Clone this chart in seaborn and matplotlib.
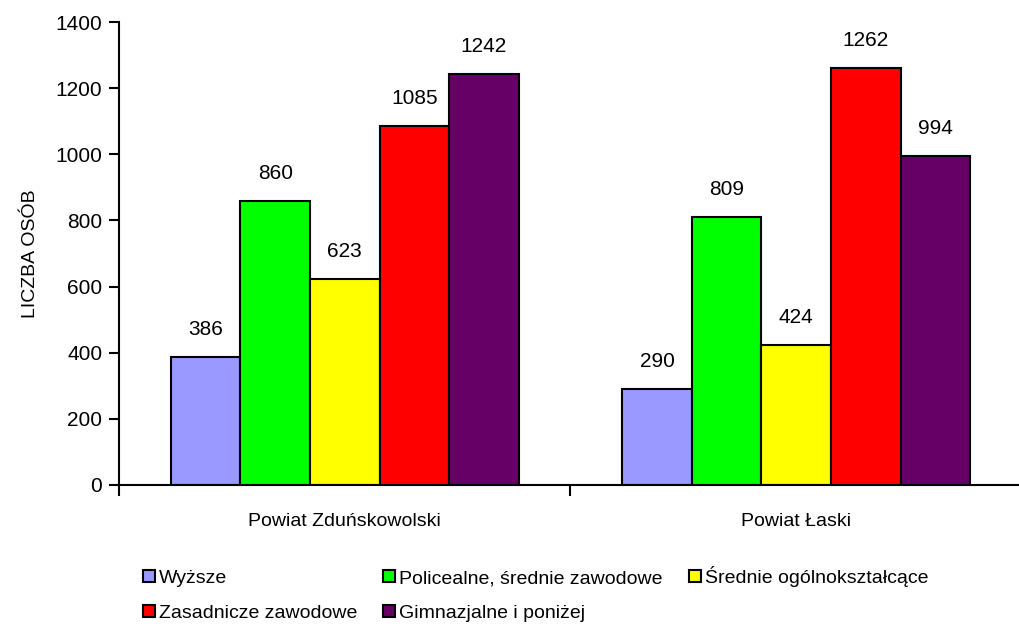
import matplotlib
matplotlib.use("Agg")
import matplotlib.pyplot as plt
import seaborn as sns
import pandas as pd
from matplotlib.patches import Patch

categories = ["Powiat Zduńskowolski", "Powiat Łaski"]
series = ["Wyższe", "Policealne, średnie zawodowe", "Średnie ogólnokształcące",
          "Zasadnicze zawodowe", "Gimnazjalne i poniżej"]
values_zdunska = [386, 860, 623, 1085, 1242]
values_laski = [290, 809, 424, 1262, 994]
colors = ["#9999FF", "#00FF00", "#FFFF00", "#FF0000", "#660066"]
yticks = [0, 200, 400, 600, 800, 1000, 1200, 1400]
ylabel = "LICZBA OSÓB"

rows = []
for cat, vals in zip(categories, [values_zdunska, values_laski]):
    for s, v in zip(series, vals):
        rows.append({"powiat": cat, "poziom": s, "liczba": v})
df = pd.DataFrame(rows)

sns.set_theme(style="white")
plt.rcParams["font.family"] = ["Liberation Sans", "DejaVu Sans"]
plt.rcParams["text.color"] = "black"
plt.rcParams["axes.labelcolor"] = "black"
plt.rcParams["xtick.color"] = "black"
plt.rcParams["ytick.color"] = "black"
FS = 14
FSN = 15

fig = plt.figure(figsize=(10.2, 6.36), dpi=100)
ax = fig.add_axes([119 / 1020, 1 - 485 / 636, (1022 - 119) / 1020, (485 - 22) / 636])

sns.barplot(data=df, x="powiat", y="liczba", hue="poziom", order=categories,
            hue_order=series, palette=colors, width=0.77, edgecolor="black",
            linewidth=1.5, saturation=1, legend=False, ax=ax)

for cont in ax.containers:
    ax.bar_label(cont, labels=[f"{int(v)}" for v in cont.datavalues],
                 padding=13, fontsize=FSN, color="black")

ax.set_ylim(0, 1400)
ax.set_xlim(-0.5, 1.5)
ax.set_yticks(yticks)
ax.set_yticklabels([str(t) for t in yticks], fontsize=FSN)
ax.set_xticks([0, 1])
ax.set_xticklabels(categories, fontsize=FS)
ax.set_xticks([-0.5, 0.5, 1.5], minor=True)
ax.tick_params(axis="x", which="major", length=0, pad=20, colors="black")
ax.tick_params(axis="x", which="minor", length=8, width=1.5, direction="out", bottom=True, color="black")
ax.tick_params(axis="y", which="major", length=7, width=1.5, direction="out", left=True, colors="black", pad=5)
ax.set_xlabel("")
ax.set_ylabel(ylabel, fontsize=FS, labelpad=12, color="black")
for side in ["top", "right"]:
    ax.spines[side].set_visible(False)
for side in ["left", "bottom"]:
    ax.spines[side].set_color("black")
    ax.spines[side].set_linewidth(1.5)

handles = [Patch(facecolor=c, edgecolor="black", linewidth=1.5) for c in colors]
positions = [(143, 587), (383, 587), (689, 587), (143, 622), (383, 622)]
for i, (xpx, ypx) in enumerate(positions):
    fig.legend([handles[i]], [series[i]], loc="lower left",
               bbox_to_anchor=(xpx / 1020, 1 - ypx / 636),
               frameon=False, fontsize=FS, borderpad=0, borderaxespad=0,
               handlelength=0.6, handleheight=0.6, handletextpad=0.2,
               labelcolor="black")

fig.savefig("out.png", dpi=100)
